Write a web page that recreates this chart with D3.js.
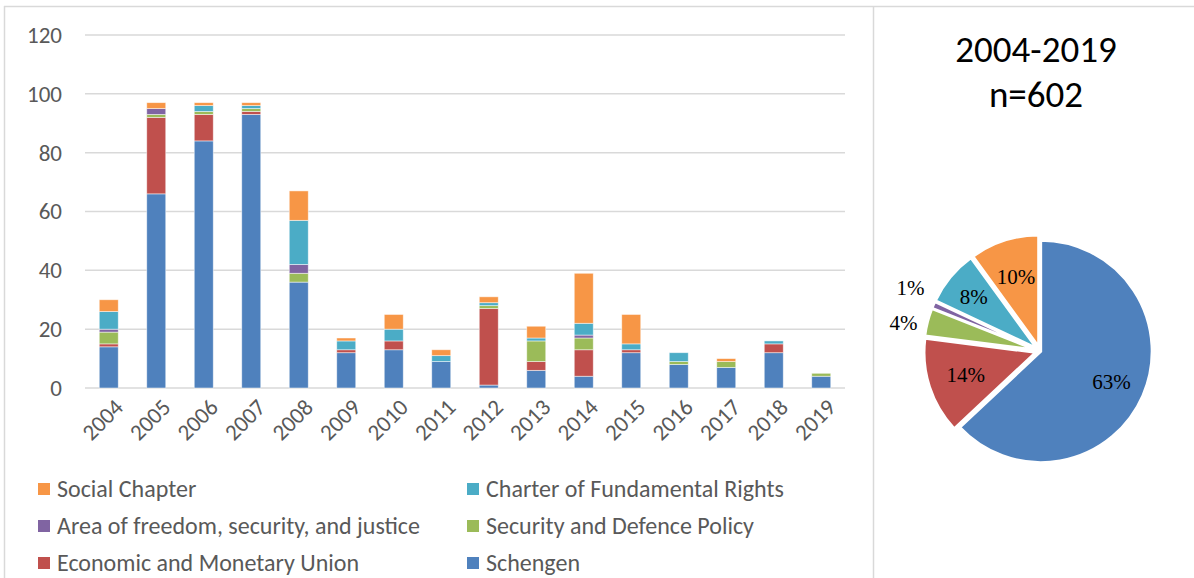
<!DOCTYPE html>
<html><head><meta charset="utf-8">
<script src="https://cdn.jsdelivr.net/npm/d3@7/dist/d3.min.js"></script>
<style>
html,body{margin:0;padding:0;background:#fff;}
svg{display:block;}
</style></head>
<body>
<svg id="chart" width="1194" height="578"></svg>
<script>
const years = ["2004","2005","2006","2007","2008","2009","2010","2011","2012","2013","2014","2015","2016","2017","2018","2019"];
const seriesNames = ["Schengen","Economic and Monetary Union","Security and Defence Policy","Area of freedom, security, and justice","Charter of Fundamental Rights","Social Chapter"];
const schengen = [14,66,84,93,36,12,13,9,1,6,4,12,8,7,12,4];
const emu      = [1,26,9,1,0,1,3,0,26,3,9,1,0,0,3,0];
const defence  = [4,1,1,1,3,0,0,0,1,7,4,0,1,2,0,1];
const freedom  = [1,2,0,0,3,0,0,0,0,0,1,0,0,0,0,0];
const charter  = [6,0,2,1,15,3,4,2,1,1,4,2,3,0,1,0];
const social   = [4,2,1,1,10,1,5,2,2,4,17,10,0,1,0,0];
const yTicks = [0,20,40,60,80,100,120];
const pieShares = [63,14,4,1,8,10];
const pieTitle = ["2004-2019","n=602"];
const colors = ["#4F81BD","#C0504D","#9BBB59","#8064A2","#4BACC6","#F79646"];

const allSeries = [schengen, emu, defence, freedom, charter, social];
const rows = years.map((y,i)=>{
  const r = {year:y};
  seriesNames.forEach((n,k)=>r[n]=allSeries[k][i]);
  return r;
});

const svg = d3.select("#chart");
const font = "Carlito, Calibri, 'Liberation Sans Narrow', 'DejaVu Sans Condensed', sans-serif";
const grey = "#595959";

// frames
svg.append("line").attr("x1",4).attr("x2",1194).attr("y1",6.5).attr("y2",6.5).attr("stroke","#d9d9d9").attr("stroke-width",1.5);
svg.append("line").attr("x1",4.5).attr("x2",4.5).attr("y1",6).attr("y2",578).attr("stroke","#d9d9d9").attr("stroke-width",1.5);
svg.append("line").attr("x1",873.5).attr("x2",873.5).attr("y1",6).attr("y2",578).attr("stroke","#d9d9d9").attr("stroke-width",1.5);

const x = d3.scaleBand().domain(years).range([85,845]).paddingInner(0.6).paddingOuter(0.3);
const y = d3.scaleLinear().domain([0,120]).range([388,35]);

// gridlines
svg.append("g").selectAll("line").data(yTicks).join("line")
  .attr("x1",85).attr("x2",845).attr("y1",d=>y(d)).attr("y2",d=>y(d))
  .attr("stroke","#d9d9d9").attr("stroke-width",1.5);

// y labels
const yAxis = svg.append("g").attr("transform","translate(62,0)")
  .call(d3.axisLeft(y).tickValues(yTicks).tickSize(0).tickPadding(0));
yAxis.select(".domain").remove();
yAxis.selectAll("text").attr("font-family",font).attr("font-size",23).attr("fill",grey);

// stacked bars
const stack = d3.stack().keys(seriesNames)(rows);
svg.append("g").selectAll("g").data(stack).join("g")
  .attr("fill",(d,i)=>colors[i])
  .selectAll("rect").data(d=>d).join("rect")
  .attr("x",d=>x(d.data.year)).attr("width",x.bandwidth())
  .attr("y",d=>y(d[1])).attr("height",d=>Math.max(0,y(d[0])-y(d[1])))
  .attr("stroke","#ffffff").attr("stroke-opacity",0.6).attr("stroke-width",0.8);

// x labels
const xAxis = svg.append("g").attr("transform","translate(0,388)")
  .call(d3.axisBottom(x).tickSize(0).tickPadding(0));
xAxis.select(".domain").remove();
xAxis.selectAll("text")
  .attr("font-family",font).attr("font-size",23).attr("fill",grey)
  .attr("text-anchor","end").attr("dy","0.35em")
  .attr("transform","translate(10,15) rotate(-45)");

// legend
const legendOrder = [5,4,3,2,1,0];
const leg = svg.append("g");
legendOrder.forEach((k,j)=>{
  const col = j%2, row = Math.floor(j/2);
  const lx = col===0 ? 38 : 467, ly = 489 + row*37;
  leg.append("rect").attr("x",lx).attr("y",ly-6).attr("width",12).attr("height",12).attr("fill",colors[k]);
  leg.append("text").attr("x",lx+19).attr("y",ly).attr("dy","0.35em")
    .attr("font-family",font).attr("font-size",24).attr("fill",grey).text(seriesNames[k]);
});

// pie title
svg.append("g").selectAll("text").data(pieTitle).join("text")
  .attr("x",1036).attr("y",(d,i)=>62+i*45).attr("text-anchor","middle")
  .attr("font-family",font).attr("font-size",37).attr("fill","#000").text(d=>d);

// pie
const cx = 1040, cy = 351, R = 111;
const pie = d3.pie().sort(null).value(d=>d)(pieShares);
const arc = d3.arc().innerRadius(0).outerRadius(R);
const pg = svg.append("g").attr("transform",`translate(${cx},${cy})`);
pg.selectAll("path").data(pie).join("path")
  .attr("d",arc).attr("fill",(d,i)=>colors[i])
  .attr("stroke","#fff").attr("stroke-width",2.5)
  .attr("transform",(d,i)=>{
    const a=(d.startAngle+d.endAngle)/2, off = i===0?1:5;
    return `translate(${Math.sin(a)*off},${-Math.cos(a)*off})`;
  });
// label positions: inside for large slices, outside for small ones (spread apart vertically)
const labelPos = pie.map(d=>{
  const a=(d.startAngle+d.endAngle)/2;
  const r = d.data<5 ? R+30 : (d.data<9 ? 86 : 78);
  return {d, x:Math.sin(a)*r, y:-Math.cos(a)*r, outside:d.data<5};
});
const outs = labelPos.filter(p=>p.outside).sort((a,b)=>a.y-b.y);
if (outs.length===2 && outs[1].y-outs[0].y<35){
  const m=(outs[0].y+outs[1].y)/2; outs[0].y=m-17.5; outs[1].y=m+17.5;
}
pg.selectAll("text").data(labelPos).join("text")
  .attr("x",p=>p.x).attr("y",p=>p.y)
  .attr("text-anchor","middle").attr("dy","0.35em")
  .attr("font-family","'Liberation Serif','DejaVu Serif',serif").attr("font-size",21).attr("fill","#000")
  .text(p=>p.d.data+"%");
</script>
</body></html>
